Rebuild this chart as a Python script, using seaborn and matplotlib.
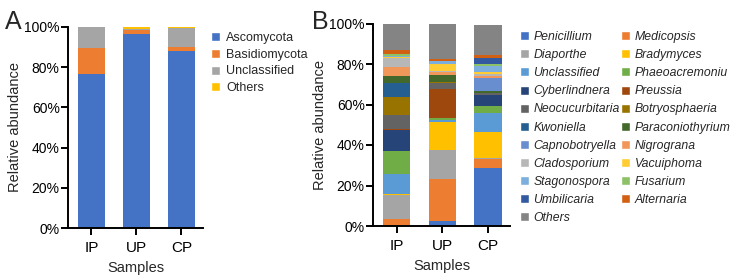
import numpy as np
import pandas as pd
import seaborn as sns
import matplotlib.pyplot as plt
from matplotlib.patches import Patch

# samples on the x axis
samples = ['IP', 'UP', 'CP']

# panel A: phylum level (%)
phyla = ['Ascomycota', 'Basidiomycota', 'Unclassified', 'Others']
phyla_colors = ['#4472C4', '#ED7D31', '#A5A5A5', '#FFC000']
phyla_IP = [76.6, 13.1, 10.2, 0.1]
phyla_UP = [96.5, 1.8, 0.9, 0.8]
phyla_CP = [88.1, 2.1, 9.1, 0.7]

# panel B: genus level (%), listed in stacking order (bottom -> top)
genera = ['Penicillium', 'Medicopsis', 'Diaporthe', 'Bradymyces', 'Unclassified',
          'Phaeoacremoniu', 'Cyberlindnera', 'Preussia', 'Neocucurbitaria',
          'Botryosphaeria', 'Kwoniella', 'Paraconiothyrium', 'Capnobotryella',
          'Nigrograna', 'Cladosporium', 'Vacuiphoma', 'Stagonospora', 'Fusarium',
          'Umbilicaria', 'Alternaria', 'Others']
genera_colors = ['#4472C4', '#ED7D31', '#A5A5A5', '#FFC000', '#5B9BD5',
                 '#70AD47', '#264478', '#9E480E', '#636363',
                 '#997300', '#255E91', '#43682B', '#698ED0',
                 '#F1975A', '#B7B7B7', '#FFCD33', '#7CAFDD', '#8CC168',
                 '#335AA1', '#D26012', '#848484']
genera_IP = [0.0, 3.3, 12.2, 0.3, 9.7, 11.5, 10.4, 0.3, 7.2, 8.9, 6.7, 3.6,
             0.0, 4.6, 4.1, 0.5, 0.5, 1.3, 0.0, 1.6, 13.3]
genera_UP = [2.3, 21.1, 14.2, 13.8, 0.7, 1.3, 0.0, 14.5, 2.8, 0.5, 0.0, 3.3,
             0.0, 1.6, 0.5, 3.6, 1.3, 0.0, 0.0, 0.8, 17.7]
genera_CP = [28.8, 4.4, 0.3, 12.8, 9.4, 3.5, 5.3, 0.4, 0.8, 0.0, 0.0, 0.8,
             6.6, 0.8, 1.2, 1.0, 2.8, 1.2, 3.0, 1.2, 15.2]

sns.set_style('ticks')
plt.rcParams['font.family'] = ['Liberation Sans', 'DejaVu Sans']
plt.rcParams['axes.linewidth'] = 1.4
plt.rcParams['xtick.major.width'] = 1.4
plt.rcParams['ytick.major.width'] = 1.4
plt.rcParams['xtick.major.size'] = 5
plt.rcParams['ytick.major.size'] = 5
plt.rcParams['xtick.color'] = 'black'
plt.rcParams['ytick.color'] = 'black'
plt.rcParams['axes.edgecolor'] = 'black'


def stacked(ax, names, colors, values):
    df = pd.DataFrame(values, index=samples, columns=names)
    cum = df.cumsum(axis=1)
    # draw tallest cumulative first so lower segments cover it
    for name, color in zip(names[::-1], colors[::-1]):
        sns.barplot(x=samples, y=cum[name].values, color=color, width=0.6,
                    saturation=1, ax=ax, linewidth=0, errorbar=None)
    ax.set_ylim(0, 100)
    ax.set_yticks(np.arange(0, 101, 20))
    ax.set_yticklabels([f'{v}%' for v in range(0, 101, 20)], fontsize=10)
    ax.tick_params(axis='y', pad=1)
    ax.tick_params(axis='x', labelsize=11, pad=4)
    ax.set_xlabel('Samples', fontsize=10.5, labelpad=5)
    ax.set_ylabel('Relative abundance', fontsize=10.5, labelpad=1.5)
    ax.set_xlim(-0.52, 2.48)
    sns.despine(ax=ax)


fig = plt.figure(figsize=(7.34, 2.79), dpi=100)
axA = fig.add_axes([68 / 734, 1 - 228 / 279, 135 / 734, 201 / 279])
axB = fig.add_axes([373 / 734, 1 - 226 / 279, 137 / 734, 202.5 / 279])

stacked(axA, phyla, phyla_colors,
        [phyla_IP, phyla_UP, phyla_CP])
stacked(axB, genera, genera_colors,
        [genera_IP, genera_UP, genera_CP])

# legends
hA = [Patch(facecolor=c, label=n) for n, c in zip(phyla, phyla_colors)]
fig.legend(handles=hA, loc='upper left', bbox_to_anchor=(211 / 734, 1 - 32 / 279),
           frameon=False, fontsize=9, handlelength=0.75, handleheight=0.75,
           handletextpad=0.45, labelspacing=0.38, borderaxespad=0, borderpad=0)

# legend reads row-wise in two columns, matplotlib fills column-wise
col1 = genera[0::2]
col2 = genera[1::2]
order = col1 + col2
cmap = dict(zip(genera, genera_colors))
hB = [Patch(facecolor=cmap[n], label=n) for n in order]
legB = fig.legend(handles=hB, loc='upper left', ncol=2,
                  bbox_to_anchor=(520 / 734, 1 - 31 / 279),
                  frameon=False, fontsize=8.8, handlelength=0.75, handleheight=0.75,
                  handletextpad=0.35, labelspacing=0.5, columnspacing=0.1,
                  borderaxespad=0, borderpad=0)
for t in legB.get_texts():
    t.set_style('italic')

fig.text(5 / 734, 1 - 29 / 279, 'A', fontsize=18)
fig.text(312 / 734, 1 - 29 / 279, 'B', fontsize=18)

fig.savefig('out.png', dpi=100)
